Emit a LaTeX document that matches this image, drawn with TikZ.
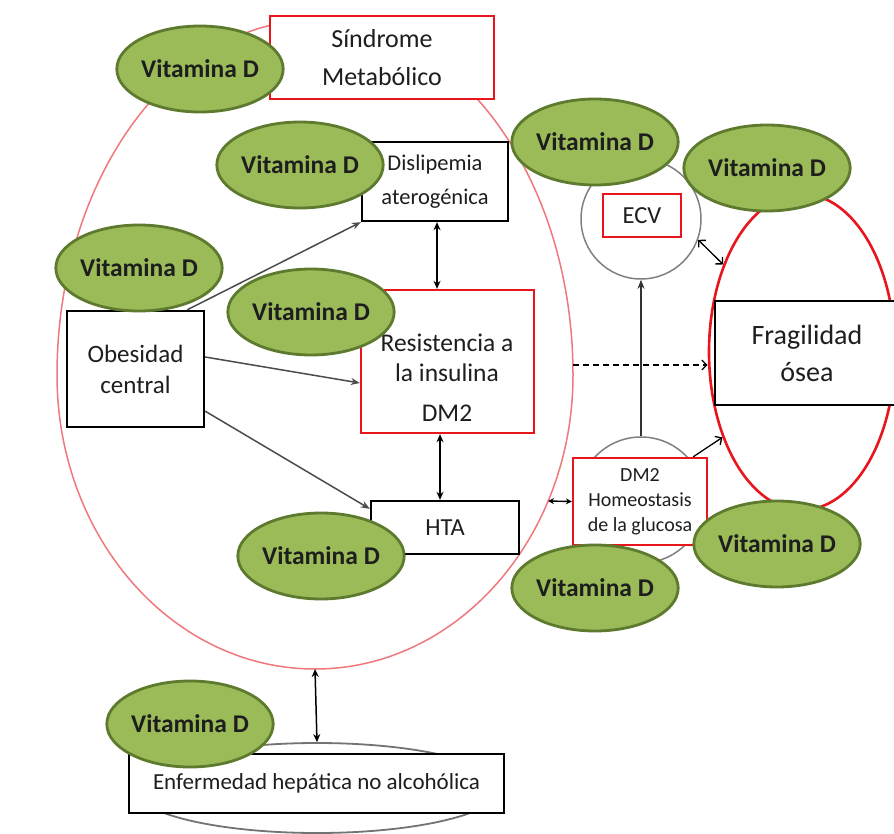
\documentclass[tikz,border=0pt]{standalone}
\usepackage{fontspec}
\setmainfont{Carlito}
\usepackage{tikz}
\usetikzlibrary{arrows.meta,shapes.geometric,calc}
\definecolor{vitfill}{RGB}{155,187,89}
\definecolor{vitline}{RGB}{94,122,46}
\definecolor{boxred}{RGB}{232,22,28}
\definecolor{pale}{RGB}{240,120,125}
\definecolor{ringgray}{RGB}{128,128,128}
\definecolor{ink}{RGB}{30,30,30}
\tikzset{
  box/.style={draw=black,line width=2.3pt,fill=white,align=center,inner sep=0pt,
              text=ink},
  rbox/.style={box,draw=boxred},
  txt/.style={align=center,inner sep=0pt,text=ink},
  vit/.style={ellipse,draw=vitline,line width=2.8pt,fill=vitfill,inner sep=0pt,
              minimum width=164pt,minimum height=86pt,text=ink,
              font=\fontsize{25.5}{30}\selectfont\bfseries},
  ring/.style={circle,draw=ringgray,line width=1.5pt,inner sep=0pt},
  fl/.style={-{Stealth[length=9pt,width=7pt]},line width=1.5pt,draw=black!70},
  dbl/.style={{Stealth[length=8pt,width=7pt]}-{Stealth[length=8pt,width=7pt]},
              line width=1.5pt},
  dbls/.style={{Stealth[length=6pt,width=6pt]}-{Stealth[length=6pt,width=6pt]},
              line width=1.4pt},
  opn/.style={-{Straight Barb[length=5pt,width=10pt]},line width=1.3pt},
  opn2/.style={{Straight Barb[length=5pt,width=10pt]}-{Straight Barb[length=5pt,width=10pt]},
              line width=1.3pt},
}

\begin{document}
\begin{tikzpicture}[x=1pt,y=-1pt]
\useasboundingbox (0,0) rectangle (894,834);
\fill[white] (0,0) rectangle (894,834);
\draw[pale,line width=1.5pt] (57,375) arc[start angle=180,end angle=360,x radius=258,y radius=355]
  arc[start angle=0,end angle=180,x radius=258,y radius=294];
\coordinate (smE) at (573,365);
\coordinate (smS) at (315,669);
\coordinate (smR) at (548,501);
\node[ellipse,draw=black!55,line width=1.8pt,minimum width=368pt,minimum height=90pt] (liverRing) at (317,788) {};
\node[ellipse,draw=boxred,line width=2.6pt,minimum width=186pt,minimum height=316pt] (frag) at (802,352) {};
\node[ring,minimum size=120pt] (ecvring) at (641,219) {};
\node[ring,minimum size=126pt] (dm2ring) at (641,500) {};
\node[rbox,minimum width=224pt,minimum height=83pt,font=\fontsize{26}{38}\selectfont] (sindrome) at (382,57.5) {Síndrome\\Metabólico};
\node[box,minimum width=146pt,minimum height=79pt,font=\fontsize{22.5}{34}\selectfont] (dislip) at (435,181.5) {Dislipemia\\aterogénica};
\node[box,minimum width=137pt,minimum height=116pt,font=\fontsize{25}{31}\selectfont] (obes) at (135.5,369) {Obesidad\\central};
\node[rbox,minimum width=173pt,minimum height=143pt] (resist) at (447.5,361.5) {};
\node[txt,font=\fontsize{25.5}{30}\selectfont] (resistTxt) at (447,378) {Resistencia a\\la insulina\\[10pt]DM2};
\node[box,minimum width=148pt,minimum height=53pt,font=\fontsize{24.5}{29}\selectfont] (hta) at (445,527.5) {HTA};
\node[rbox,minimum width=78pt,minimum height=43pt,font=\fontsize{24.5}{29}\selectfont] (ecvbox) at (642,215.5) {ECV};
\node[box,minimum width=184pt,minimum height=104pt,font=\fontsize{28}{37}\selectfont] (fragbox) at (807,353) {Fragilidad\\ósea};
\node[rbox,minimum width=134pt,minimum height=87pt,font=\fontsize{20}{25}\selectfont] (dm2box) at (640,501.5) {DM2\\Homeostasis\\de la glucosa};
\node[box,minimum width=375pt,minimum height=59pt,font=\fontsize{23}{28}\selectfont] (liverbox) at (316.5,783.5) {Enfermedad hepática no alcohólica};
\draw[fl] ([xshift=-18pt]obes.north east) -- (dislip.south west);
\draw[fl] ([yshift=12pt]obes.east) -- ([yshift=-21.5pt]resist.west);
\draw[fl] ([yshift=17pt]obes.south east) -- ([yshift=-9pt]hta.north west);
\draw[dbl] ($(dislip.south)+(2,0)$) -- ($(dislip.south |- resist.north)+(2,0)$);
\draw[dbl] ($(hta.north |- resist.south)+(-5,0)$) -- ($(hta.north)+(-5,0)$);
\draw[dbls] (smR) -- (dm2box.west);
\draw[fl,draw=black!80] (dm2ring.north) -- (ecvring.south);
\draw[opn2] (ecvring.-20) -- (frag.132);
\draw[opn] ([xshift=-15pt]dm2box.north east) -- (frag.227);
\draw[opn,dash pattern=on 6pt off 4pt] (smE) -- (smE -| frag.west);
\draw[dbl] (smS) -- (liverRing.north);
\node[vit] (v1) at (200,69) {Vitamina D};
\node[vit] (v2) at (300,165) {Vitamina D};
\node[vit] (v3) at (139,268) {Vitamina D};
\node[vit] (v4) at (311,312) {Vitamina D};
\node[vit] (v5) at (321,556) {Vitamina D};
\node[vit] (v6) at (595,142) {Vitamina D};
\node[vit] (v7) at (767,168) {Vitamina D};
\node[vit] (v8) at (595,588) {Vitamina D};
\node[vit] (v9) at (777,544) {Vitamina D};
\node[vit] (v10) at (190,724) {Vitamina D};
\end{tikzpicture}
\end{document}
